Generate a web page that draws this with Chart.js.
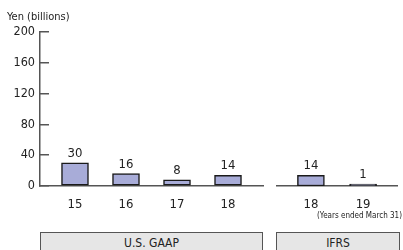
<!DOCTYPE html>
<html>
<head>
<meta charset="utf-8">
<script src="https://cdn.jsdelivr.net/npm/chart.js@4"></script>
<style>
  body { margin: 0; background: #fff; }
  #wrap { position: relative; width: 403px; height: 250px; overflow: hidden;
          font-family: 'DejaVu Sans Condensed', Roboto, sans-serif; color: #222; }
  #c1 { position: absolute; left: 0; top: 0; }
  #c2 { position: absolute; left: 263px; top: 0; }
  .unit { position: absolute; left: 7px; top: 10px; font-size: 11px; }
  .note { position: absolute; right: 1px; top: 211px; font-size: 8px; }
  .box { position: absolute; top: 232px; height: 30px; background: #e6e6e6; border: 1px solid #555;
         text-align: center; font-size: 12px; line-height: 21px; box-sizing: border-box; }
</style>
</head>
<body>
<div id="wrap">
  <canvas id="c1" width="270" height="250"></canvas>
  <canvas id="c2" width="140" height="250"></canvas>
  <div class="unit">Yen (billions)</div>
  <div class="note">(Years ended March 31)</div>
  <div class="box" style="left:40px;width:223px;">U.S. GAAP</div>
  <div class="box" style="left:276px;width:124px;">IFRS</div>
</div>
<script>
const gaapYears = ["15", "16", "17", "18"];
const gaapValues = [30, 16, 8, 14];
const ifrsYears = ["18", "19"];
const ifrsValues = [14, 1];
const yTicks = [0, 40, 80, 120, 160, 200];

const font = "'DejaVu Sans Condensed', Roboto, sans-serif";
const barFill = "#a8acd8";
const axisColor = "#555";

// value labels above each bar
const valueLabels = {
    id: "valueLabels",
    afterDatasetsDraw(chart) {
        const c = chart.ctx;
        const ds = chart.data.datasets[0];
        c.save();
        c.font = "13px " + font;
        c.fillStyle = "#222";
        c.textAlign = "center";
        c.textBaseline = "alphabetic";
        chart.getDatasetMeta(0).data.forEach((bar, i) => {
            c.fillText(String(ds.data[i].y), bar.x, bar.y - 6);
        });
        c.restore();
    }
};

function makeChart(id, years, values, showY, padLeft, padRight, pad) {
    return new Chart(document.getElementById(id).getContext("2d"), {
        type: "bar",
        data: {
            datasets: [{
                data: values.map((v, i) => ({ x: i, y: v })),
                backgroundColor: barFill,
                borderColor: "#1a1a1a",
                borderWidth: 1.5,
                borderSkipped: false,
                barThickness: 27,
                minBarLength: 2,
            }]
        },
        options: {
            responsive: false,
            animation: false,
            layout: { padding: { top: 32, left: padLeft, right: padRight, bottom: 0 } },
            plugins: { legend: { display: false }, tooltip: { enabled: false } },
            scales: {
                x: {
                    type: "linear",
                    offset: false,
                    min: -pad,
                    max: years.length - 1 + pad,
                    grid: { display: false },
                    border: { display: true, color: axisColor, width: 1.5 },
                    afterBuildTicks(s) { s.ticks = years.map((_, i) => ({ value: i })); },
                    afterFit(s) { s.height = 64; },
                    ticks: {
                        padding: 3,
                        color: "#222",
                        font: { family: font, size: 13 },
                        callback: (v) => years[v] ?? "",
                    }
                },
                y: {
                    display: showY,
                    min: 0,
                    max: 200,
                    afterBuildTicks(s) { s.ticks = yTicks.map(v => ({ value: v })); },
                    afterFit(s) { s.width = showY ? 40 : 0; },
                    grid: { drawOnChartArea: false, drawTicks: true, tickLength: -9, color: axisColor, lineWidth: 1.5 },
                    border: { display: true, color: axisColor, width: 1.5 },
                    ticks: {
                        padding: 14,
                        color: "#222",
                        font: { family: font, size: 12.5 },
                    }
                }
            }
        },
        plugins: [valueLabels]
    });
}

makeChart("c1", gaapYears, gaapValues, true, 0, 7, 0.686);
makeChart("c2", ifrsYears, ifrsValues, false, 14, 6, 0.65);
</script>
</body>
</html>
